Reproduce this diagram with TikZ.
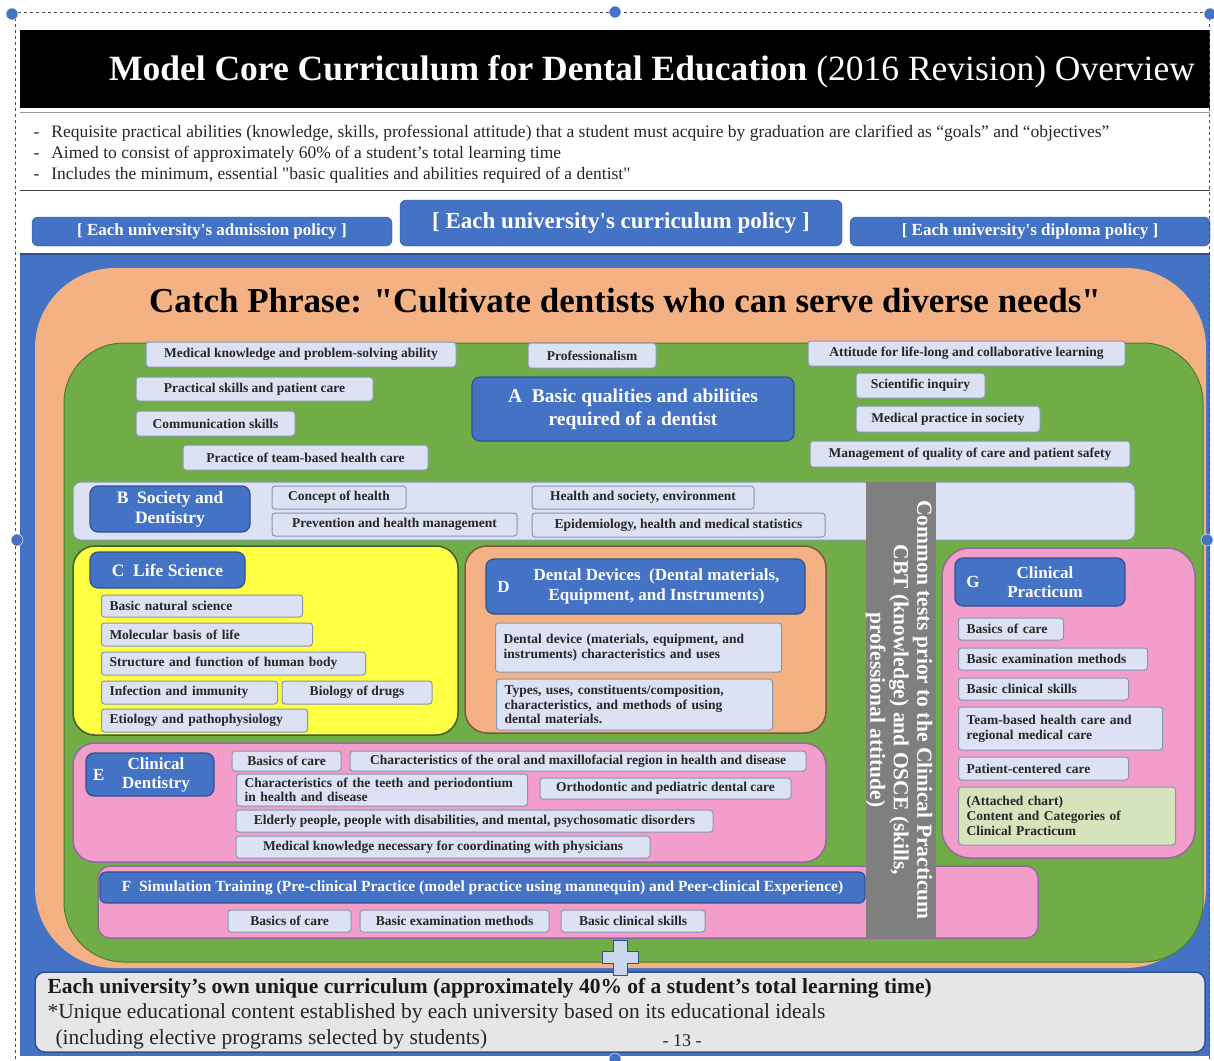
\documentclass[tikz,border=0pt]{standalone}
\usepackage{fontspec}
\setmainfont{Liberation Serif}
\newfontfamily\qserif{Liberation Serif}
\definecolor{hblue}{HTML}{4472C4}
\definecolor{hline}{HTML}{2F528F}
\definecolor{peach}{HTML}{F4B183}
\definecolor{grass}{HTML}{70AD47}
\definecolor{itemfill}{HTML}{DCE2F3}
\definecolor{itemline}{HTML}{8497B0}
\definecolor{lemon}{HTML}{FFFF44}
\definecolor{rose}{HTML}{F39DCB}
\definecolor{roseline}{HTML}{8E6A9E}
\definecolor{barcol}{HTML}{7F7F7F}
\definecolor{attach}{HTML}{D6E4BC}
\definecolor{bottomfill}{HTML}{E7E6E6}
\definecolor{plusfill}{HTML}{C9D6EE}
\newcommand{\bfs}[2]{\fontsize{#1}{#2}\selectfont\bfseries}
\newcommand{\rms}[2]{\fontsize{#1}{#2}\selectfont}
\begin{document}
\begin{tikzpicture}[x=1pt,y=-1pt,
    item/.style={draw=itemline, fill=itemfill, rounded corners=3pt, line width=1pt,
      inner sep=2pt, font=\bfs{13.5}{15}, text=black!85},
    litem/.style={item, inner xsep=8pt, align=left, text width=#1},
    head/.style={draw=hline, fill=hblue, rounded corners=8pt, line width=1.2pt,
      text=white, align=center},
    zone/.style={draw=#1, line width=1.5pt, rounded corners=22pt},
    policy/.style={draw=hline, fill=hblue, rounded corners=6pt, text=white}]
\useasboundingbox (0,0) rectangle (1214,1060);
\fill[white] (0,0) rectangle (1214,1060);
% title and notes
\fill[black] (20,30) rectangle (1210,108);
\node[text=white, font=\rms{35.5}{40}] (title) at (652,72)
  {\textbf{Model Core Curriculum for Dental Education} (2016 Revision) Overview};
\draw[black!40] (20,112) -- (1210,112);
\draw[black!75, line width=1pt] (20,190) -- (1210,190);
\node[anchor=west, font=\rms{17.5}{20}, text=black!85] (note1) at (30,133)
  {-\hspace{12pt}Requisite practical abilities (knowledge, skills, professional attitude) that a student must acquire by graduation are clarified as “goals” and “objectives”};
\node[anchor=west, font=\rms{17.5}{20}, text=black!85] (note2) at (30,154)
  {-\hspace{12pt}Aimed to consist of approximately 60\% of a student’s total learning time};
\node[anchor=west, font=\qserif\rms{17.5}{20}, text=black!85] (note3) at (30,175)
  {-\hspace{12pt}Includes the minimum, essential "basic qualities and abilities required of a dentist"};
% policies
\node[policy, minimum width=360pt, minimum height=29pt, font=\qserif\bfs{17}{19}] (adm) at (212,231.5)
  {[ Each university's admission policy ]};
\node[policy, minimum width=442pt, minimum height=46pt, font=\qserif\bfs{23}{26}] (cur) at (621,223)
  {[ Each university's curriculum policy ]};
\node[policy, minimum width=360pt, minimum height=29pt, font=\qserif\bfs{17}{19}] (dip) at (1030,231.5)
  {[ Each university's diploma policy ]};
% background layers
\fill[hblue] (20,254) rectangle (1210,1056);
\draw[hline, line width=1.5pt] (20,254) -- (1210,254);
\fill[peach, rounded corners=80pt] (35,268) rectangle (1206,968);
\node[font=\qserif\bfs{35}{38}] (catch) at (625,301)
  {Catch Phrase: "Cultivate dentists who can serve diverse needs"};
\draw[grass!70!black, fill=grass, line width=1pt, rounded corners=60pt] (64,343) rectangle (1203,962);
% A
\node[head, minimum width=322pt, minimum height=64pt, font=\bfs{19.5}{23}] (ahead) at (633,409)
  {A\ \ Basic qualities and abilities\\required of a dentist};
\node[item, minimum width=310pt, minimum height=25pt] (a1) at (301,354.5) {Medical knowledge and problem-solving ability};
\node[item, minimum width=128pt, minimum height=25pt] (a2) at (592,355.5) {Professionalism};
\node[item, minimum width=317pt, minimum height=25pt] (a3) at (966.5,353.5) {Attitude for life-long and collaborative learning};
\node[item, minimum width=237pt, minimum height=24pt] (a4) at (254.5,389) {Practical skills and patient care};
\node[item, minimum width=129pt, minimum height=25pt] (a5) at (920.5,385.5) {Scientific inquiry};
\node[item, minimum width=159pt, minimum height=25pt] (a6) at (215.5,423.5) {Communication skills};
\node[item, minimum width=184pt, minimum height=26pt] (a7) at (948,419) {Medical practice in society};
\node[item, minimum width=245pt, minimum height=25pt] (a8) at (305.5,457.5) {Practice of team-based health care};
\node[item, minimum width=320pt, minimum height=26pt] (a9) at (970,454) {Management of quality of care and patient safety};
% B
\draw[itemline, fill=itemfill, line width=1pt, rounded corners=8pt] (73,482) rectangle (1135,540);
\node[head, minimum width=160pt, minimum height=46pt, font=\bfs{17.5}{20}] (bhead) at (170,509)
  {B\ \ Society and\\Dentistry};
\node[item, minimum width=134pt, minimum height=23pt] (b1) at (339,497.5) {Concept of health};
\node[item, minimum width=245pt, minimum height=23pt] (b2) at (394.5,524.5) {Prevention and health management};
\node[item, minimum width=222pt, minimum height=23pt] (b3) at (643,497.5) {Health and society, environment};
\node[item, minimum width=293pt, minimum height=24pt] (b4) at (678.5,525) {Epidemiology, health and medical statistics};
% C
\draw[zone=grass!55!black, fill=lemon] (73,546) rectangle (458,735);
\node[head, minimum width=155pt, minimum height=36pt, font=\bfs{17.5}{20}] (chead) at (167.5,570) {C\ \ Life Science};
\node[litem=185pt, minimum height=22pt, anchor=west] (c1) at (101,606) {Basic natural science};
\node[litem=195pt, minimum height=23pt, anchor=west] (c2) at (101,634.5) {Molecular basis of life};
\node[litem=248pt, minimum height=23pt, anchor=west] (c3) at (101,663.5) {Structure and function of human body};
\node[litem=160pt, minimum height=23pt, anchor=west] (c4) at (101,692.5) {Infection and immunity};
\node[item, minimum width=150pt, minimum height=23pt] (c5) at (357,692.5) {Biology of drugs};
\node[litem=190pt, minimum height=23pt, anchor=west] (c6) at (101,720.5) {Etiology and pathophysiology};
% D
\draw[zone=peach!50!black, fill=peach] (465,546) rectangle (826,733);
\node[head, minimum width=319pt, minimum height=55pt, font=\bfs{17}{20},
  label={[anchor=west, text=white, font=\bfs{17}{20}]west:\ \ D}] (dhead) at (645.5,586.5)
  {\hspace*{22pt}Dental Devices\ \ (Dental materials,\\\hspace*{22pt}Equipment, and Instruments)};
\node[litem=270pt, minimum height=49pt, anchor=west] (d1) at (495,647.5)
  {Dental device (materials, equipment, and\\instruments) characteristics and uses};
\node[litem=260pt, minimum height=51pt, anchor=west, font=\bfs{13.5}{14.5}] (d2) at (496,704.5)
  {Types, uses, constituents/composition,\\characteristics, and methods of using\\dental materials.};
% E
\draw[zone=roseline, fill=rose] (73,743) rectangle (826,862);
\node[head, minimum width=128pt, minimum height=43pt, font=\bfs{17}{19},
  label={[anchor=west, text=white, font=\bfs{17}{19}]west:\ E}] (ehead) at (150,774.5)
  {\hspace*{12pt}Clinical\\\hspace*{12pt}Dentistry};
\node[item, minimum width=109pt, minimum height=20pt] (e1) at (286.5,761) {Basics of care};
\node[item, minimum width=456pt, minimum height=20pt] (e2) at (578,761)
  {Characteristics of the oral and maxillofacial region in health and disease};
\node[litem=275pt, minimum height=32pt, anchor=west, font=\bfs{13.5}{14}] (e3) at (236,790)
  {Characteristics of the teeth and periodontium\\in health and disease};
\node[item, minimum width=251pt, minimum height=21pt] (e4) at (665.5,788.5) {Orthodontic and pediatric dental care};
\node[item, minimum width=477pt, minimum height=22pt] (e5) at (474.5,821)
  {Elderly people, people with disabilities, and mental, psychosomatic disorders};
\node[item, minimum width=414pt, minimum height=22pt] (e6) at (443,847)
  {Medical knowledge necessary for coordinating with physicians};
% F
\draw[zone=roseline, fill=rose, rounded corners=12pt] (98,866) rectangle (1038,938);
\node[head, minimum width=765pt, minimum height=31pt, font=\bfs{15.5}{17}, rounded corners=6pt] (fhead) at (482.5,887.5)
  {F\ \ Simulation Training (Pre-clinical Practice (model practice using mannequin) and Peer-clinical Experience)};
\node[item, minimum width=123pt, minimum height=22pt] (f1) at (289.5,921) {Basics of care};
\node[item, minimum width=189pt, minimum height=22pt] (f2) at (454.5,921) {Basic examination methods};
\node[item, minimum width=144pt, minimum height=22pt] (f3) at (633,921) {Basic clinical skills};
% G
\draw[zone=roseline, fill=rose, rounded corners=28pt] (942,548) rectangle (1195,858);
\node[head, minimum width=170pt, minimum height=48pt, font=\bfs{17}{19},
  label={[anchor=west, text=white, font=\bfs{17}{19}]west:\ \ G}] (ghead) at (1040,582)
  {\hspace*{10pt}Clinical\\\hspace*{10pt}Practicum};
\node[litem=89pt, minimum height=22pt, anchor=west] (g1) at (958,629) {Basics of care};
\node[litem=173pt, minimum height=22pt, anchor=west] (g2) at (958,659) {Basic examination methods};
\node[litem=154pt, minimum height=22pt, anchor=west] (g3) at (958,689) {Basic clinical skills};
\node[litem=188pt, minimum height=43pt, anchor=west] (g4) at (958,728.5)
  {Team-based health care and\\regional medical care};
\node[litem=154pt, minimum height=23pt, anchor=west] (g5) at (958,768.5) {Patient-centered care};
\node[litem=201pt, minimum height=58pt, anchor=west, fill=attach] (g6) at (958,816)
  {(Attached chart)\\Content and Categories of\\Clinical Practicum};
% common tests bar
\fill[barcol] (866,482) rectangle (936,938);
\node[rotate=-90, text=white, align=center, font=\bfs{21.5}{23.5}] (cbt) at (899,710)
  {Common tests prior to the Clinical Practicum\\CBT (knowledge) and OSCE (skills,\\professional attitude)};
% own curriculum
\draw[hline, fill=bottomfill, line width=1.5pt, rounded corners=10pt] (35,972) rectangle (1205,1052);
\draw[hline, fill=plusfill, line width=1pt] (613,940) -- (627,940) -- (627,951) -- (638,951) -- (638,963)
  -- (627,963) -- (627,975) -- (613,975) -- (613,963) -- (602,963) -- (602,951) -- (613,951) -- cycle;
\node[anchor=west, font=\bfs{21.5}{24}, text=black!90] (own1) at (44,988)
  {Each university’s own unique curriculum (approximately 40\% of a student’s total learning time)};
\node[anchor=west, font=\rms{21.5}{24}, text=black!85] (own2) at (44,1013)
  {*Unique educational content established by each university based on its educational ideals};
\node[anchor=west, font=\rms{21.5}{24}, text=black!85] (own3) at (52,1039)
  {(including elective programs selected by students)};
\node[font=\rms{18}{20}, text=black!85] (page) at (682,1041) {- 13 -};
% frame of the selection
\draw[black!70, dashed, line width=1pt] (12,12) -- (1210,12);
\draw[black!70, dashed, line width=1pt] (15,12) -- (15,1060);
\draw[black!70, dashed, line width=1pt] (1209,12) -- (1209,1060);
\foreach \p in {(615,12),(17,540),(1207,540),(615,1059),(12,14),(1210,14)}
  \fill[hblue, draw=white] \p circle (6pt);
\end{tikzpicture}
\end{document}
